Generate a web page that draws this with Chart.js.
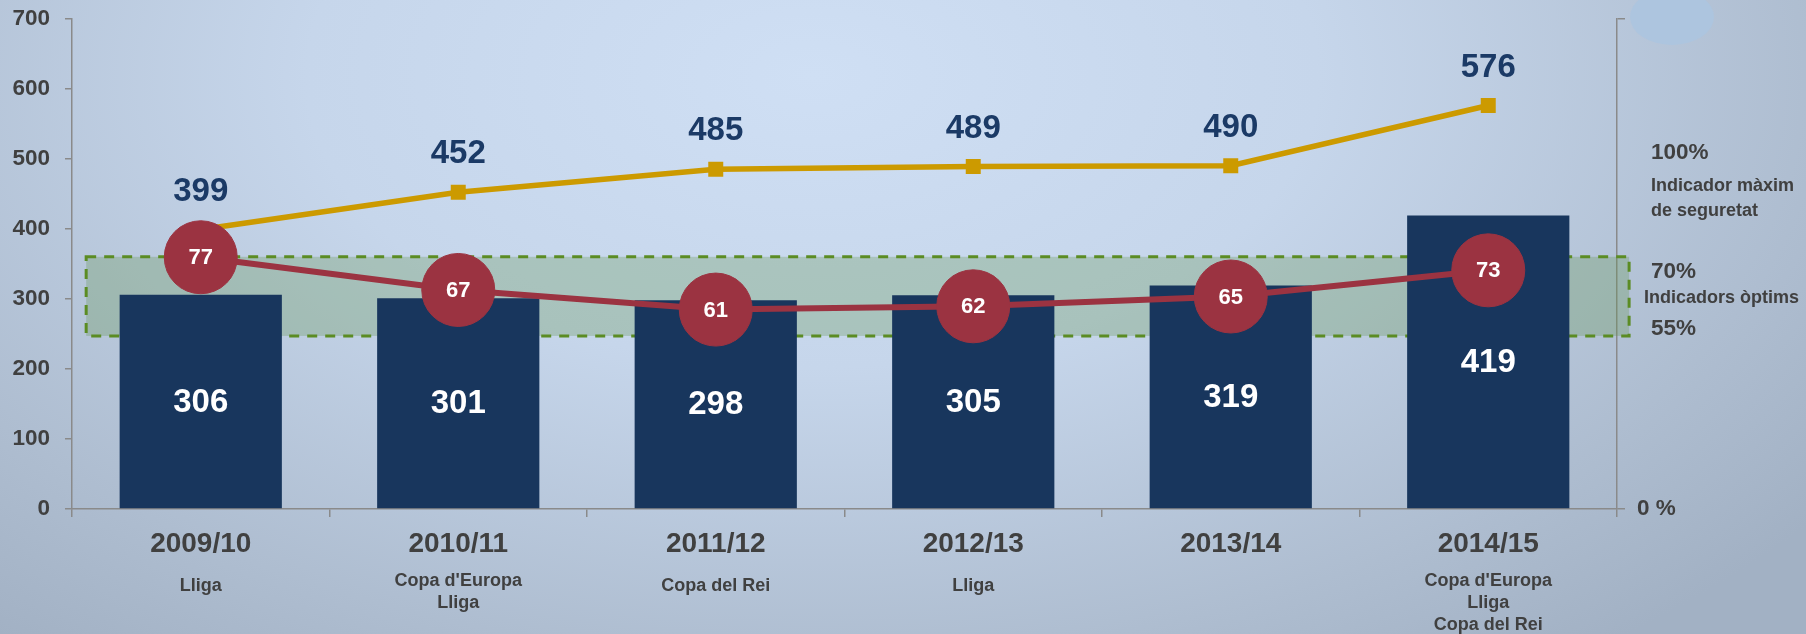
<!DOCTYPE html>
<html>
<head>
<meta charset="utf-8">
<title>Evolució temporada</title>
<style>
  html, body { margin: 0; padding: 0; }
  body {
    width: 1806px; height: 634px; overflow: hidden; position: relative;
    background: radial-gradient(ellipse 70% 115% at 45% 12%, #cfdff4 0%, #c6d6eb 40%, #aebdd0 80%, #a2b1c4 100%);
  }
  #blob {
    position: absolute; left: 1630px; top: -11px; width: 84px; height: 56px;
    border-radius: 50%; background: #adc5df;
  }
  #wrap { position: absolute; left: 0; top: 0; width: 1806px; height: 634px; }
</style>
</head>
<body>
<div id="blob"></div>
<div id="wrap"><canvas id="chart"></canvas></div>
<script src="https://cdn.jsdelivr.net/npm/chart.js"></script>
<script>
const seasons = ['2009/10', '2010/11', '2011/12', '2012/13', '2013/14', '2014/15'];
const trophies = [
  ['Lliga'],
  ["Copa d'Europa", 'Lliga'],
  ['Copa del Rei'],
  ['Lliga'],
  [],
  ["Copa d'Europa", 'Lliga', 'Copa del Rei']
];
const barValues = [306, 301, 298, 305, 319, 419];
const lineValues = [399, 452, 485, 489, 490, 576];
const pctValues = [77, 67, 61, 62, 65, 73];
const leftMax = 700, leftStep = 100;
const rightMax = 150;
const band = [247, 360];   // zona òptima, en unitats de l'eix esquerre
const rightLabels = ['100%', 'Indicador màxim', 'de seguretat', '70%', 'Indicadors òptims', '55%'];

const FONT = '"Liberation Sans", Arial, sans-serif';
Chart.defaults.font.family = FONT;

const navy = '#18365d';
const gold = '#cc9a00';
const red = '#9b3341';
const grey = '#8a8a8a';
const txt = '#404040';

// zona verda discontínua darrere de les barres
const bandPlugin = {
  id: 'band',
  beforeDatasetsDraw(chart) {
    const x = chart.scales.x, y = chart.scales.y, ctx = chart.ctx;
    const x0 = x.getPixelForValue(-0.445), x1 = x.getPixelForValue(5.547);
    const y0 = y.getPixelForValue(band[1]), y1 = y.getPixelForValue(band[0]);
    ctx.save();
    ctx.fillStyle = 'rgba(100,150,80,0.3)';
    ctx.fillRect(x0, y0, x1 - x0, y1 - y0);
    ctx.strokeStyle = '#5b8c23';
    ctx.lineWidth = 3;
    ctx.setLineDash([10, 8]);
    ctx.strokeRect(x0, y0, x1 - x0, y1 - y0);
    ctx.restore();
  }
};

const labelPlugin = {
  id: 'labels',
  afterDatasetsDraw(chart) {
    const ctx = chart.ctx;
    ctx.save();
    ctx.textAlign = 'center';
    ctx.textBaseline = 'middle';
    // barres
    chart.getDatasetMeta(2).data.forEach((el, i) => {
      ctx.fillStyle = '#ffffff';
      ctx.font = 'bold 33px ' + FONT;
      ctx.fillText(barValues[i], el.x, (el.y + el.base) / 2 + 1);
    });
    // línia daurada
    chart.getDatasetMeta(1).data.forEach((el, i) => {
      ctx.fillStyle = '#1b3a66';
      ctx.font = 'bold 33px ' + FONT;
      ctx.fillText(lineValues[i], el.x, el.y - 38);
    });
    // cercles
    chart.getDatasetMeta(0).data.forEach((el, i) => {
      ctx.fillStyle = '#ffffff';
      ctx.font = 'bold 22px ' + FONT;
      ctx.fillText(pctValues[i], el.x, el.y + 1);
    });
    ctx.restore();
  },
  afterDraw(chart) {
    const ctx = chart.ctx, x = chart.scales.x, y1 = chart.scales.y1;
    ctx.save();
    ctx.textAlign = 'center';
    ctx.textBaseline = 'middle';
    ctx.fillStyle = txt;
    ctx.font = 'bold 18px ' + FONT;
    trophies.forEach((lines, i) => {
      const cx = x.getPixelForValue(i);
      const top = lines.length === 1 ? 586 : 581.5;
      lines.forEach((s, k) => ctx.fillText(s, cx, top + k * 22));
    });
    // textos a la dreta
    const rx = chart.chartArea.right;
    ctx.textAlign = 'left';
    const pos = [109, 98.7, 91.2, 72.6, 64.6, 55];
    rightLabels.forEach((s, k) => {
      const big = s.indexOf('%') >= 0;
      ctx.font = big ? 'bold 22.5px ' + FONT : 'bold 18px ' + FONT;
      const dx = (s === 'Indicadors òptims') ? 27 : 34;
      ctx.fillText(s, rx + dx, y1.getPixelForValue(pos[k]));
    });
    ctx.restore();
  }
};

new Chart(document.getElementById('chart'), {
  data: {
    labels: seasons,
    datasets: [
      {
        type: 'line',
        label: 'Indicador',
        data: pctValues,
        yAxisID: 'y1',
        borderColor: red,
        borderWidth: 6,
        pointRadius: 36.5,
        pointBackgroundColor: red,
        pointBorderColor: red,
        pointBorderWidth: 1,
        order: 0
      },
      {
        type: 'line',
        label: 'Total',
        data: lineValues,
        yAxisID: 'y',
        borderColor: gold,
        borderWidth: 5.5,
        pointStyle: 'rect',
        pointRadius: 10.6,
        pointBackgroundColor: gold,
        pointBorderWidth: 0,
        order: 1
      },
      {
        type: 'bar',
        label: 'Barres',
        data: barValues,
        yAxisID: 'y',
        backgroundColor: navy,
        categoryPercentage: 1,
        barPercentage: 0.63,
        order: 2
      }
    ]
  },
  options: {
    responsive: true,
    maintainAspectRatio: false,
    animation: false,
    layout: { autoPadding: false, padding: { top: 18.6, left: 0, right: 0, bottom: 0 } },
    plugins: { legend: { display: false }, tooltip: { enabled: false } },
    scales: {
      x: {
        grid: { drawOnChartArea: false, tickLength: 8, color: grey, lineWidth: 1.5 },
        border: { color: grey, width: 1.5 },
        ticks: { color: txt, font: { size: 28, weight: 'bold' }, padding: 10, maxRotation: 0 },
        afterFit(s) { s.height = 125; }
      },
      y: {
        position: 'left',
        min: 0, max: leftMax,
        grid: { drawOnChartArea: false, tickLength: 7, color: grey, lineWidth: 1.5 },
        border: { color: grey, width: 1.5 },
        ticks: { stepSize: leftStep, color: txt, font: { size: 22.5, weight: 'bold' }, padding: 15 },
        afterFit(s) { s.width = 72; s.paddingTop = 0; }
      },
      y1: {
        position: 'right',
        min: 0, max: rightMax,
        grid: { drawOnChartArea: false, tickLength: 8, color: grey, lineWidth: 1.5 },
        border: { color: grey, width: 1.5 },
        ticks: {
          stepSize: rightMax, color: txt, font: { size: 22.5, weight: 'bold' }, padding: 12,
          callback: v => v === 0 ? '0 %' : ''
        },
        afterFit(s) { s.width = 189; s.paddingTop = 0; }
      }
    }
  },
  plugins: [bandPlugin, labelPlugin]
});
</script>
</body>
</html>
